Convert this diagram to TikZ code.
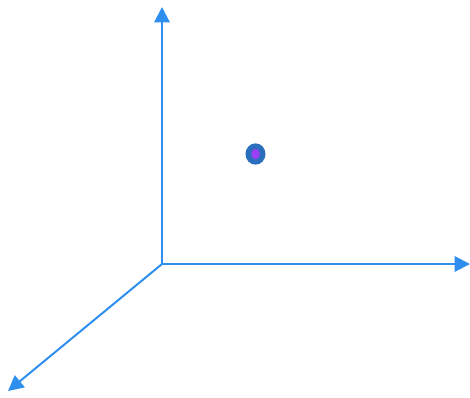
\documentclass[tikz,border=0pt]{standalone}
\usetikzlibrary{arrows.meta,shapes.geometric}
\definecolor{axisblue}{RGB}{47,143,239}
\definecolor{dotblue}{RGB}{42,110,190}
\definecolor{dotpurple}{RGB}{155,63,245}
\tikzset{
  axis/.style={draw=axisblue, line width=1.5pt, -{Triangle[length=11.5pt,width=11.5pt]}},
}
\begin{document}
\begin{tikzpicture}[x=0.75pt,y=-0.75pt]
\useasboundingbox (0,0) rectangle (470,397);
\coordinate (o) at (162,264);
\coordinate (ytip) at (162,7);
\coordinate (xtip) at (470,264);
\coordinate (ztip) at (8,391);
\draw[axis] (o) -- (ytip);
\draw[axis] (o) -- (xtip);
\draw[axis] (o) -- (ztip);
\node[ellipse, fill=dotblue, minimum width=15pt, minimum height=16pt, inner sep=0pt] (dot) at (255.5,154) {};
\node[ellipse, fill=dotpurple, minimum width=6.5pt, minimum height=8pt, inner sep=0pt] (core) at (dot) {};
\end{tikzpicture}
\end{document}
